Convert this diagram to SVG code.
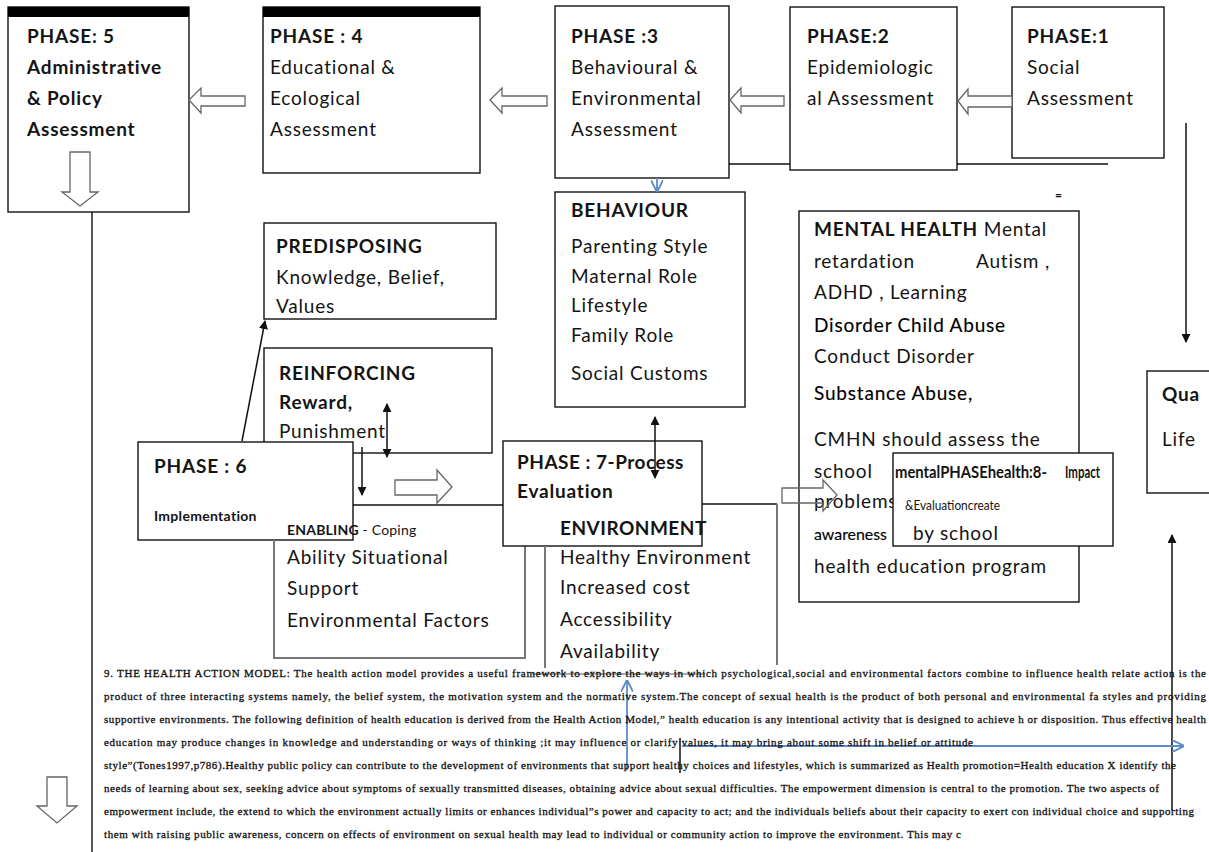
<svg xmlns="http://www.w3.org/2000/svg" width="1209" height="852" viewBox="0 0 1209 852">
<style>
.box{fill:#fff;stroke:#111;stroke-width:1.4}
.gline{fill:none;stroke:#777;stroke-width:2}
.ln{fill:none;stroke:#111;stroke-width:1.4}
.arr{fill:none;stroke:#111;stroke-width:1.5}
.hol{fill:#fff;stroke:#666;stroke-width:1.3}
.blue{fill:none;stroke:#5b8bc9;stroke-width:1.8}
.t{font-family:Lato,"Open Sans","Liberation Sans",sans-serif;font-size:19px;letter-spacing:0.8px;fill:#141414}
.b{font-weight:bold}
.sb{fill:#000;stroke:#000;stroke-width:0.15px}
.p{font-family:"Liberation Serif",serif;font-size:11px;fill:#111;stroke:#111;stroke-width:0.3px}
</style>
<defs>
<marker id="ah" viewBox="0 0 10 10" refX="9" refY="5" markerWidth="9" markerHeight="9" orient="auto-start-reverse" markerUnits="userSpaceOnUse">
<path d="M0,0 L10,5 L0,10 z" fill="#111"/>
</marker>
<marker id="bh" viewBox="0 0 10 10" refX="9" refY="5" markerWidth="12" markerHeight="12" orient="auto" markerUnits="userSpaceOnUse">
<path d="M0,0 L10,5 L0,10" fill="none" stroke="#5b8bc9" stroke-width="1.6"/>
</marker>
</defs>

<g id="phase5">
<rect class="box" x="8" y="7" width="181" height="205"/>
<rect x="8" y="7" width="181" height="10" fill="#000"/>
<text class="t b" x="27" y="43">PHASE: 5</text>
<text class="t b" x="27" y="74">Administrative</text>
<text class="t b" x="27" y="105">&amp; Policy</text>
<text class="t b" x="27" y="136">Assessment</text>
</g>
<g id="phase4">
<rect class="box" x="263" y="7" width="217" height="166"/>
<rect x="263" y="7" width="217" height="10" fill="#000"/>
<text class="t b" x="270" y="43">PHASE : 4</text>
<text class="t" x="270" y="74">Educational &amp;</text>
<text class="t" x="270" y="105">Ecological</text>
<text class="t" x="270" y="136">Assessment</text>
</g>
<g id="phase3">
<rect class="box" x="555" y="6" width="174" height="172"/>
<text class="t b" x="571" y="43">PHASE :3</text>
<text class="t" x="571" y="74">Behavioural &amp;</text>
<text class="t" x="571" y="105">Environmental</text>
<text class="t" x="571" y="136">Assessment</text>
</g>
<g id="phase2">
<rect class="box" x="790" y="7" width="167" height="163"/>
<text class="t b" x="807" y="43">PHASE:2</text>
<text class="t" x="807" y="74">Epidemiologic</text>
<text class="t" x="807" y="105">al Assessment</text>
</g>
<g id="phase1">
<rect class="box" x="1012" y="7" width="152" height="151"/>
<text class="t b" x="1027" y="43">PHASE:1</text>
<text class="t" x="1027" y="74">Social</text>
<text class="t" x="1027" y="105">Assessment</text>
</g>
<text class="t b" x="1055" y="199" style="font-size:12px">=</text>

<g id="predisposing">
<rect class="box" x="264" y="223" width="232" height="96"/>
<text class="t b" x="276" y="253">PREDISPOSING</text>
<text class="t" x="276" y="284">Knowledge, Belief,</text>
<text class="t" x="276" y="313">Values</text>
</g>
<g id="reinforcing">
<rect class="box" x="264" y="348" width="228" height="105"/>
<text class="t b" x="279" y="380">REINFORCING</text>
<text class="t b" x="279" y="409">Reward,</text>
<text class="t" x="279" y="438">Punishment</text>
</g>
<g id="behaviour">
<rect class="box" x="555" y="192" width="190" height="215"/>
<text class="t b" x="571" y="217">BEHAVIOUR</text>
<text class="t" x="571" y="253">Parenting Style</text>
<text class="t" x="571" y="283">Maternal Role</text>
<text class="t" x="571" y="312">Lifestyle</text>
<text class="t" x="571" y="342">Family Role</text>
<text class="t" x="571" y="380">Social Customs</text>
</g>
<g id="mental-health">
<rect class="box" x="799" y="211" width="280" height="391"/>
<text class="t" x="814" y="236"><tspan class="b">MENTAL HEALTH</tspan> Mental</text>
<text class="t" x="814" y="268">retardation</text>
<text class="t" x="976" y="268">Autism ,</text>
<text class="t" x="814" y="299">ADHD ,  Learning</text>
<text class="t sb" x="814" y="332">Disorder Child Abuse</text>
<text class="t" x="814" y="363">Conduct Disorder</text>
<text class="t sb" x="814" y="400">Substance Abuse,</text>
<text class="t" x="814" y="446">CMHN should assess the</text>
<text class="t" x="814" y="478">school</text>
<text class="t" x="814" y="508">problems</text>
<text class="t sb" x="814" y="540" style="font-size:16px;letter-spacing:0" textLength="73" lengthAdjust="spacingAndGlyphs">awareness</text>
<text class="t" x="814" y="573">health education program</text>
</g>
<g id="phase8">
<rect class="box" x="893" y="453" width="220" height="93"/>
<text class="t b" x="895" y="478" style="font-size:17px;letter-spacing:0" textLength="152" lengthAdjust="spacingAndGlyphs">mentalPHASEhealth:8-</text>
<text class="t b" x="1065" y="478" style="font-size:17px;letter-spacing:0" textLength="35" lengthAdjust="spacingAndGlyphs">Impact</text>
<text class="t" x="905" y="510" style="font-size:13px;letter-spacing:0" textLength="95" lengthAdjust="spacingAndGlyphs">&amp;Evaluationcreate</text>
<text class="t" x="913" y="540">by school</text>
</g>
<g id="quality-of-life">
<rect class="box" x="1147" y="371" width="80" height="122"/>
<text class="t b" x="1162" y="401">Qua</text>
<text class="t" x="1162" y="446">Life</text>
</g>
<g id="phase6">
<rect class="box" x="138" y="442" width="215" height="98"/>
<text class="t b" x="154" y="473">PHASE : 6</text>
<text class="t b" x="154" y="521" style="font-size:14px;letter-spacing:0.3px">Implementation</text>
</g>
<g id="enabling">
<path class="ln" d="M353,505 H503"/>
<path class="gline" d="M274,540 V658 H525 V546"/>
<text class="t" x="287" y="535" style="font-size:14px;letter-spacing:0.2px"><tspan class="b">ENABLING</tspan> - Coping</text>
<text class="t" x="287" y="564">Ability  Situational</text>
<text class="t" x="287" y="595">Support</text>
<text class="t" x="287" y="627">Environmental Factors</text>
</g>
<g id="phase7">
<rect class="box" x="503" y="441" width="199" height="105"/>
<text class="t b" x="517" y="469" style="letter-spacing:0.5px">PHASE : 7-Process</text>
<text class="t b" x="517" y="498">Evaluation</text>
<text class="t b" x="560" y="535" style="letter-spacing:0.5px">ENVIRONMENT</text>
</g>
<g id="environment">
<path class="ln" d="M702,504 H777"/>
<path class="gline" d="M777,504 V665 M545,546 V668"/>
<text class="t" x="560" y="564">Healthy Environment</text>
<text class="t" x="560" y="594">Increased cost</text>
<text class="t" x="560" y="626">Accessibility</text>
<text class="t" x="560" y="658">Availability</text>
</g>

<g id="connectors">
<path class="ln" d="M729,164 H790 M957,164 H1108"/>
<path class="ln" d="M92,212 V852" stroke="#888"/>
<polygon class="hol" points="189,100 201,88 201,96 245,96 245,106 201,106 201,113"/>
<polygon class="hol" points="490,100 502,88 502,96 547,96 547,106 502,106 502,113"/>
<polygon class="hol" points="730,100 741,88 741,96 784,96 784,106 741,106 741,113"/>
<polygon class="hol" points="958,101 968,89 968,96 1012,96 1012,107 968,107 968,114"/>
<polygon class="hol" points="70,152 90,152 90,192 98,192 80,206 62,192 70,192"/>
<polygon class="hol" points="47,777 67,777 67,806 77,806 57,823 37,806 47,806"/>
<polygon class="hol" points="395,480 437,480 437,470 452,487 437,503 437,495 395,495"/>
<polygon class="hol" points="782,488 823,488 823,480 837,495 823,511 823,503 782,503" style="fill:none"/>
<line class="arr" x1="242" y1="441" x2="265" y2="321" marker-end="url(#ah)"/>
<line class="arr" x1="387" y1="404" x2="387" y2="457" marker-start="url(#ah)" marker-end="url(#ah)"/>
<line class="arr" x1="362" y1="447" x2="362" y2="495" marker-end="url(#ah)"/>
<line class="arr" x1="655" y1="417" x2="655" y2="478" marker-start="url(#ah)" marker-end="url(#ah)"/>
<line class="arr" x1="1186" y1="123" x2="1186" y2="342" marker-end="url(#ah)"/>
<line class="arr" x1="1172" y1="810" x2="1172" y2="535" marker-end="url(#ah)"/>
<line class="arr" x1="680" y1="738" x2="680" y2="773"/>
<line class="blue" x1="657" y1="178" x2="657" y2="191" marker-end="url(#bh)"/>
<line class="blue" x1="627" y1="770" x2="627" y2="681" marker-end="url(#bh)"/>
<line class="blue" x1="682" y1="746" x2="1183" y2="746" marker-end="url(#bh)"/>
<line x1="532" y1="674" x2="705" y2="674" stroke="#555" stroke-width="1.2"/>
</g>

<g id="paragraph">
<text class="p" x="104" y="677" textLength="1102" lengthAdjust="spacing">9.    THE HEALTH ACTION MODEL: The health action model provides a useful framework to explore the ways in which psychological,social and environmental factors combine to influence health relate action is the</text>
<text class="p" x="104" y="700" textLength="1102" lengthAdjust="spacing">product of three interacting  systems namely, the belief system, the motivation system and the normative system.The concept of sexual health is the product of both personal and environmental fa styles and providing</text>
<text class="p" x="104" y="723" textLength="1102" lengthAdjust="spacing">supportive environments. The following definition of health education is derived from the Health Action Model,” health education is any intentional activity that is designed to achieve h or disposition. Thus effective health</text>
<text class="p" x="104" y="746" textLength="869" lengthAdjust="spacing">education may produce changes in knowledge and understanding or ways of thinking ;it may influence or clarify values, it may bring about some shift in belief or attitude</text>
<text class="p" x="104" y="769" textLength="1072" lengthAdjust="spacing">style”(Tones1997,p786).Healthy public policy can contribute to the development of environments that support healthy choices and lifestyles, which is summarized as Health promotion=Health education X identify the</text>
<text class="p" x="104" y="792" textLength="1055" lengthAdjust="spacing">needs of learning about sex, seeking advice about symptoms of sexually transmitted diseases, obtaining advice about sexual difficulties. The empowerment dimension is central to the promotion. The two aspects of</text>
<text class="p" x="104" y="815" textLength="1090" lengthAdjust="spacing">empowerment include, the extend to which the environment actually limits or enhances individual”s power and capacity to act; and the individuals beliefs about their capacity to exert con individual choice and supporting</text>
<text class="p" x="104" y="838" textLength="857" lengthAdjust="spacing">them with raising public awareness, concern on effects of environment on sexual health may lead to individual or community action to improve the environment. This may c</text>
</g>
</svg>
